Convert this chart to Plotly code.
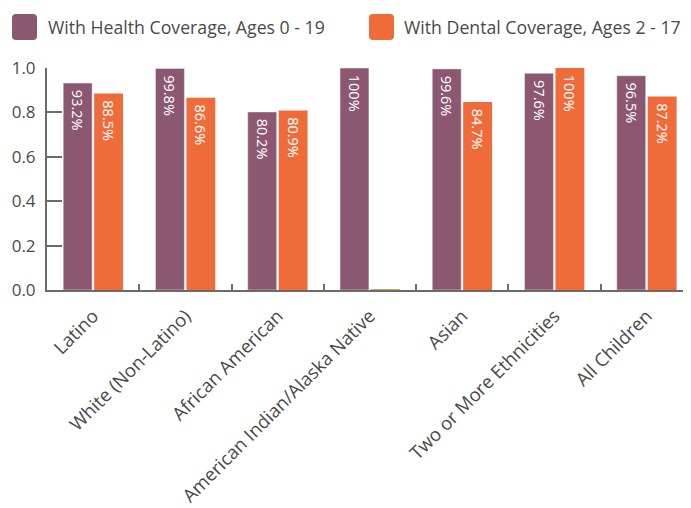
import plotly.graph_objects as go

categories = ["Latino", "White (Non-Latino)", "African American",
              "American Indian/Alaska Native", "Asian",
              "Two or More Ethnicities", "All Children"]
health = [0.932, 0.998, 0.802, 1.000, 0.996, 0.976, 0.965]
dental = [0.885, 0.866, 0.809, 0.0, 0.847, 1.000, 0.872]
health_labels = ["93.2%", "99.8%", "80.2%", "100%", "99.6%", "97.6%", "96.5%"]
dental_labels = ["88.5%", "86.6%", "80.9%", "", "84.7%", "100%", "87.2%"]
series_names = ["With Health Coverage, Ages 0 - 19", "With Dental Coverage, Ages 2 - 17"]
y_ticks = [0.0, 0.2, 0.4, 0.6, 0.8, 1.0]

PURPLE = "#8c5770"
ORANGE = "#ef6b3a"
TEXT = "#4a4a4a"
AXIS = "#6b6b6b"
FONT = "Open Sans"

OFF = 8  # page body margin
W, H = 691 - OFF, 508 - OFF
L, T = 47 - OFF, 68 - OFF
BOT = 290 - OFF
R = 0
B = H - BOT
pw, ph = W - L - R, H - T - B

fig = go.Figure()
fig.add_trace(go.Bar(
    x=categories, y=health, name=series_names[0], marker_color=PURPLE,
    text=health_labels, texttemplate="\u00a0%{text}",
    textposition="inside", insidetextanchor="end",
    textangle=90, textfont=dict(color="white", size=14.5, family=FONT),
    hoverinfo="x+y"))
fig.add_trace(go.Bar(
    x=categories, y=dental, name=series_names[1], marker_color=ORANGE,
    marker_line_width=[0, 0, 0, 2, 0, 0, 0], marker_line_color="#c2ad4a",
    text=dental_labels, texttemplate="\u00a0%{text}",
    textposition="inside", insidetextanchor="end",
    textangle=90, textfont=dict(color="white", size=14.5, family=FONT),
    hoverinfo="x+y"))

def px2paper(x, y):
    x -= OFF
    y -= OFF
    return (x - L) / pw, (BOT - y) / ph

def rrect(x0, y0, x1, y1, r):
    def P(x, y):
        a, b = px2paper(x, y)
        return f"{a:.5f},{b:.5f}"
    return (f"M {P(x0 + r, y0)} L {P(x1 - r, y0)} Q {P(x1, y0)} {P(x1, y0 + r)} "
            f"L {P(x1, y1 - r)} Q {P(x1, y1)} {P(x1 - r, y1)} "
            f"L {P(x0 + r, y1)} Q {P(x0, y1)} {P(x0, y1 - r)} "
            f"L {P(x0, y0 + r)} Q {P(x0, y0)} {P(x0 + r, y0)} Z")

shapes = []
annotations = []
legend_items = [(12, 46, PURPLE, series_names[0]), (369, 402, ORANGE, series_names[1])]
for sx, tx, col, name in legend_items:
    shapes.append(dict(type="path", xref="paper", yref="paper",
                       path=rrect(sx, 14, sx + 25, 40, 4),
                       fillcolor=col, line=dict(width=0)))
    ax, ay = px2paper(tx, 27)
    annotations.append(dict(x=ax, y=ay, xref="paper", yref="paper", text=name,
                            showarrow=False, xanchor="left", yanchor="middle",
                            font=dict(size=17.7, color=TEXT, family=FONT)))

fig.update_layout(
    width=W, height=H,
    margin=dict(l=L, r=R, t=T, b=B, pad=0),
    paper_bgcolor="white", plot_bgcolor="white",
    barmode="group", bargap=0.33, bargroupgap=0.065,
    showlegend=False,
    shapes=shapes, annotations=annotations,
    font=dict(family=FONT, color=TEXT),
    uniformtext=dict(mode="show", minsize=14),
)
fig.update_xaxes(
    range=[-0.5, 6.48], showline=True, linecolor=AXIS, linewidth=2,
    ticks="inside", tickson="boundaries", ticklen=6, tickcolor=AXIS, tickwidth=2,
    tickangle=-45, tickfont=dict(size=18.5, color=TEXT, family=FONT),
    ticklabelstandoff=6, layer="below traces",
    showgrid=False, zeroline=False)
fig.update_yaxes(
    range=[0, 1], tickvals=y_ticks, tickformat=".1f", showline=True,
    linecolor=AXIS, linewidth=2, ticks="inside", ticklen=15, tickcolor=AXIS,
    tickwidth=2, tickfont=dict(size=17, color=TEXT, family=FONT),
    showgrid=False, zeroline=False, ticklabelstandoff=6)

fig.write_html("out.html")
